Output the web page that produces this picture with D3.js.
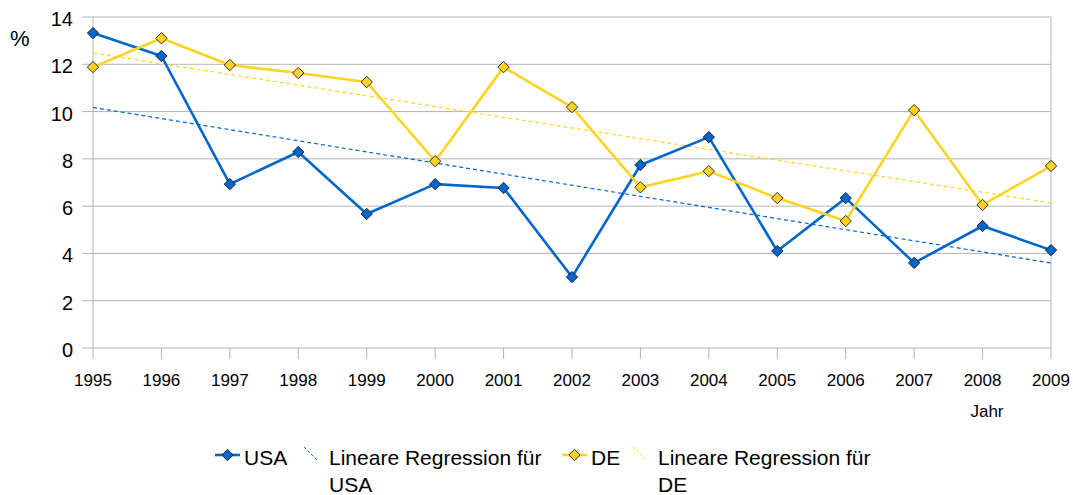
<!DOCTYPE html>
<html>
<head>
<meta charset="utf-8">
<script src="https://cdn.jsdelivr.net/npm/d3@7"></script>
<style>
  body { margin: 0; background: #fff; }
  svg { display: block; font-family: "Liberation Sans", Arial, sans-serif; }
</style>
</head>
<body>
<svg id="chart" width="1073" height="495"></svg>
<script>
// data
const years = [1995, 1996, 1997, 1998, 1999, 2000, 2001, 2002, 2003, 2004, 2005, 2006, 2007, 2008, 2009]
const usa = [13.32, 12.35, 6.93, 8.29, 5.67, 6.93, 6.77, 3.0, 7.74, 8.92, 4.1, 6.34, 3.6, 5.16, 4.14]
const de = [11.88, 13.1, 11.97, 11.63, 11.25, 7.9, 11.88, 10.19, 6.8, 7.48, 6.34, 5.37, 10.06, 6.05, 7.7]
const yTicks = [0, 2, 4, 6, 8, 10, 12, 14]

const BLUE = '#0066cc'
const YELLOW = '#ffd320'
const GRID = '#b3b3b3'

const svg = d3.select('#chart')

const x = d3.scaleLinear().domain([1995, 2009]).range([93, 1051])
const y = d3.scaleLinear().domain([0, 14]).range([348, 17])

// least squares fit, drawn over the full year range
function regression (ys) {
  const n = years.length
  const mx = d3.mean(years), my = d3.mean(ys)
  let sxy = 0, sxx = 0
  years.forEach((xv, i) => { sxy += (xv - mx) * (ys[i] - my); sxx += (xv - mx) * (xv - mx) })
  const b = sxy / sxx, a = my - b * mx
  return [years[0], years[n - 1]].map(xv => [xv, a + b * xv])
}

// horizontal grid + y axis labels
const yAxis = svg.append('g')
yAxis.selectAll('line').data(yTicks).join('line')
  .attr('x1', 82).attr('x2', 1051)
  .attr('y1', d => y(d)).attr('y2', d => y(d))
  .attr('stroke', GRID).attr('stroke-width', 1)
yAxis.selectAll('text').data(yTicks).join('text')
  .attr('x', 73).attr('y', d => y(d) + 9)
  .attr('text-anchor', 'end')
  .attr('font-size', 20)
  .text(d => d)

// plot frame verticals
svg.append('line').attr('x1', x(1995)).attr('x2', x(1995)).attr('y1', y(14)).attr('y2', y(0))
  .attr('stroke', GRID)
svg.append('line').attr('x1', x(2009)).attr('x2', x(2009)).attr('y1', y(14)).attr('y2', y(0))
  .attr('stroke', GRID)

// x ticks + labels
const xAxis = svg.append('g')
xAxis.selectAll('line').data(years).join('line')
  .attr('x1', d => x(d)).attr('x2', d => x(d))
  .attr('y1', y(0)).attr('y2', y(0) + 11)
  .attr('stroke', GRID)
xAxis.selectAll('text').data(years).join('text')
  .attr('x', d => x(d)).attr('y', 386)
  .attr('text-anchor', 'middle')
  .attr('font-size', 17)
  .text(d => d)

svg.append('text').attr('x', 10).attr('y', 46).attr('font-size', 22).text('%')
svg.append('text').attr('x', 987).attr('y', 417).attr('text-anchor', 'middle').attr('font-size', 17).text('Jahr')

const line = d3.line().x(d => x(d[0])).y(d => y(d[1]))
const diamond = d3.symbol().type(d3.symbolDiamond2).size(82)

function series (vals, color) {
  svg.append('path')
    .attr('d', line(regression(vals)))
    .attr('fill', 'none').attr('stroke', color).attr('stroke-width', 1.2)
    .attr('stroke-dasharray', '4,3')
}
function dataLine (vals, color) {
  const pts = years.map((yr, i) => [yr, vals[i]])
  svg.append('path')
    .attr('d', line(pts))
    .attr('fill', 'none').attr('stroke', color).attr('stroke-width', 2.6)
    .attr('stroke-linejoin', 'round')
  svg.append('g').selectAll('path').data(pts).join('path')
    .attr('transform', d => `translate(${x(d[0])},${y(d[1])})`)
    .attr('d', diamond)
    .attr('fill', color).attr('stroke', '#1a1a1a').attr('stroke-width', 0.9)
}

series(usa, BLUE)
series(de, YELLOW)
dataLine(usa, BLUE)
dataLine(de, YELLOW)

// legend
const legend = [
  { kind: 'line', color: BLUE, x: 215, label: ['USA'] },
  { kind: 'reg', color: BLUE, x: 304, label: ['Lineare Regression für', 'USA'] },
  { kind: 'line', color: YELLOW, x: 562, label: ['DE'] },
  { kind: 'reg', color: YELLOW, x: 633, label: ['Lineare Regression für', 'DE'] }
]
const lg = svg.append('g')
legend.forEach(it => {
  const g = lg.append('g')
  let tx
  if (it.kind === 'line') {
    g.append('line').attr('x1', it.x).attr('x2', it.x + 25).attr('y1', 455).attr('y2', 455)
      .attr('stroke', it.color).attr('stroke-width', 2.6)
    g.append('path').attr('transform', `translate(${it.x + 12.5},455)`).attr('d', diamond)
      .attr('fill', it.color).attr('stroke', '#1a1a1a').attr('stroke-width', 0.9)
    tx = it.x + 29
  } else {
    g.append('line').attr('x1', it.x).attr('x2', it.x + 13).attr('y1', 447).attr('y2', 460)
      .attr('stroke', it.color).attr('stroke-width', 1).attr('stroke-dasharray', '3,2')
    tx = it.x + 25
  }
  it.label.forEach((t, i) => {
    g.append('text').attr('x', tx).attr('y', 465 + i * 27).attr('font-size', 21).text(t)
  })
})
</script>
</body>
</html>
